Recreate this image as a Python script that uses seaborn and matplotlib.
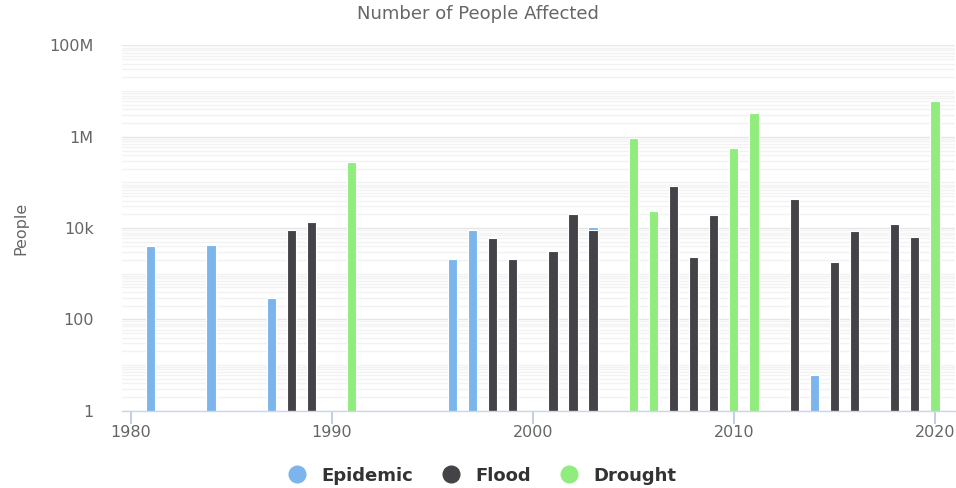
import pandas as pd
import matplotlib.pyplot as plt
import seaborn as sns
from matplotlib.ticker import LogLocator, FixedLocator, NullFormatter
from matplotlib.lines import Line2D

# Veriler
epidemic_years = [1981, 1984, 1987, 1996, 1997, 2003, 2014]
epidemic_people = [4000, 4300, 290, 2100, 9300, 10500, 6]

flood_years = [1988, 1989, 1998, 1999, 2001, 2002, 2003, 2007, 2008, 2009,
               2013, 2015, 2016, 2018, 2019]
flood_people = [9200, 13300, 6000, 2100, 3200, 20000, 9200, 85000, 2300, 19000,
                44000, 1800, 8700, 12300, 6400]

drought_years = [1991, 2005, 2006, 2010, 2011, 2020]
drought_people = [275000, 920000, 23500, 560000, 3300000, 6200000]

types = ["Epidemic", "Flood", "Drought"]
colors = ["#7cb5ec", "#434348", "#90ed7d"]

df = pd.concat([
    pd.DataFrame({"Year": epidemic_years, "People": epidemic_people, "Type": "Epidemic"}),
    pd.DataFrame({"Year": flood_years, "People": flood_people, "Type": "Flood"}),
    pd.DataFrame({"Year": drought_years, "People": drought_people, "Type": "Drought"}),
], ignore_index=True)

sns.set_style("white")
plt.rcParams["font.family"] = ["DejaVu Sans"]

fig = plt.figure(figsize=(9.56, 4.88), dpi=100)
ax = fig.add_axes([0.1276, 0.1584, 0.8714, 0.7484])

sns.barplot(data=df, x="Year", y="People", hue="Type", hue_order=types,
            palette=colors, saturation=1, native_scale=True, dodge=False,
            width=0.46, edgecolor="white", linewidth=0.8, legend=False, ax=ax)

ax.set_yscale("log")
ax.set_ylim(1, 1e8)
ax.set_xlim(1979.57, 2021.0)

# Izgara çizgileri
ax.yaxis.set_major_locator(FixedLocator([1, 100, 1e4, 1e6, 1e8]))
ax.yaxis.set_minor_locator(LogLocator(base=10, subs=range(1, 10), numticks=50))
ax.yaxis.set_minor_formatter(NullFormatter())
ax.set_yticklabels(["1", "100", "10k", "1M", "100M"])
ax.grid(True, axis="y", which="minor", color="#f2f2f2", linewidth=1)
ax.grid(True, axis="y", which="major", color="#e6e6e6", linewidth=1)
ax.xaxis.grid(False, which="both")
ax.set_axisbelow(True)

ax.set_xticks([1980, 1990, 2000, 2010, 2020])
ax.tick_params(axis="x", which="major", bottom=True, direction="out", length=9,
               width=1.2, color="#b8c6e3", labelsize=11.5, labelcolor="#666666", pad=1)
ax.tick_params(axis="x", which="minor", bottom=False)
ax.tick_params(axis="y", which="both", left=False, labelsize=11.5,
               labelcolor="#666666", pad=17)

for s in ["top", "right", "left"]:
    ax.spines[s].set_visible(False)
ax.spines["bottom"].set_color("#ccd6eb")
ax.spines["bottom"].set_linewidth(1)

ax.set_xlabel("")
ax.set_ylabel("People", fontsize=11.5, color="#666666", labelpad=15)

fig.text(0.5, 0.971, "Number of People Affected", ha="center", va="center",
         fontsize=13, color="#666666")

handles = [Line2D([0], [0], marker="o", linestyle="", markersize=12,
                  markerfacecolor=c, markeredgecolor=c) for c in colors]
leg = fig.legend(handles, types, loc="center", bbox_to_anchor=(0.5, 0.025),
                 ncol=3, frameon=False, handletextpad=0.35, columnspacing=1.1,
                 prop={"weight": "bold", "size": 13})
for t in leg.get_texts():
    t.set_color("#333333")

fig.savefig("out.png", dpi=100)
